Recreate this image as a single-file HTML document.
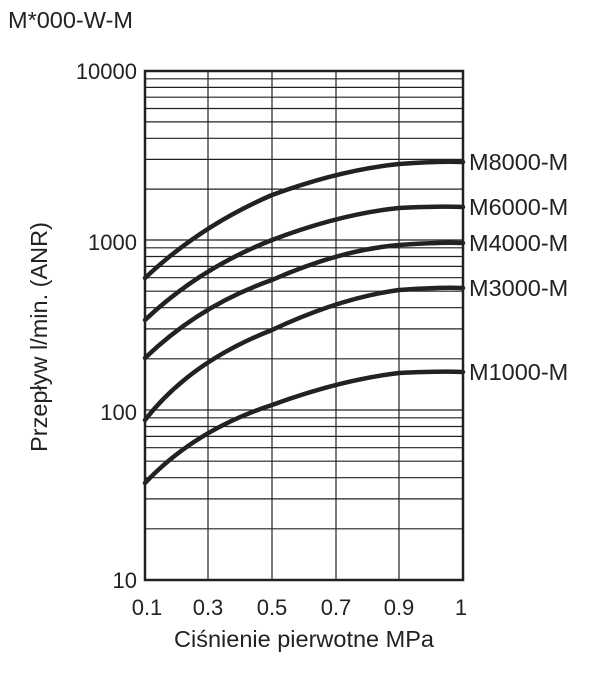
<!DOCTYPE html>
<html><head><meta charset="utf-8"><style>body{margin:0;background:#fff}</style></head><body>
<svg width="600" height="671" xmlns="http://www.w3.org/2000/svg" font-family="Liberation Sans, sans-serif">
<rect width="600" height="671" fill="#fff"/>
<text x="8" y="28" font-size="23.5" fill="#222">M*000-W-M</text>
<g stroke="#222" stroke-width="1.2" fill="none">
<line x1="208" y1="71" x2="208" y2="580"/><line x1="272" y1="71" x2="272" y2="580"/><line x1="336" y1="71" x2="336" y2="580"/><line x1="399" y1="71" x2="399" y2="580"/>
<line x1="145" y1="189.1" x2="463" y2="189.1"/><line x1="145" y1="159.4" x2="463" y2="159.4"/><line x1="145" y1="138.3" x2="463" y2="138.3"/><line x1="145" y1="121.9" x2="463" y2="121.9"/><line x1="145" y1="108.5" x2="463" y2="108.5"/><line x1="145" y1="97.2" x2="463" y2="97.2"/><line x1="145" y1="87.4" x2="463" y2="87.4"/><line x1="145" y1="78.8" x2="463" y2="78.8"/>
<line x1="145" y1="240" x2="463" y2="240"/>
<line x1="145" y1="358.8" x2="463" y2="358.8"/><line x1="145" y1="328.9" x2="463" y2="328.9"/><line x1="145" y1="307.7" x2="463" y2="307.7"/><line x1="145" y1="291.2" x2="463" y2="291.2"/><line x1="145" y1="277.7" x2="463" y2="277.7"/><line x1="145" y1="266.4" x2="463" y2="266.4"/><line x1="145" y1="256.5" x2="463" y2="256.5"/><line x1="145" y1="247.8" x2="463" y2="247.8"/>
<line x1="145" y1="410" x2="463" y2="410"/>
<line x1="145" y1="528.8" x2="463" y2="528.8"/><line x1="145" y1="498.9" x2="463" y2="498.9"/><line x1="145" y1="477.7" x2="463" y2="477.7"/><line x1="145" y1="461.2" x2="463" y2="461.2"/><line x1="145" y1="447.7" x2="463" y2="447.7"/><line x1="145" y1="436.4" x2="463" y2="436.4"/><line x1="145" y1="426.5" x2="463" y2="426.5"/><line x1="145" y1="417.8" x2="463" y2="417.8"/>
</g>
<g fill="none" stroke="#222" stroke-width="4.5" stroke-linecap="round">
<path d="M145,278 Q200,226 272,195 Q340,170 399,164 Q440,161 463,162"/>
<path d="M145,320 Q200,268 272,240 Q340,214 399,208 Q440,206 463,207"/>
<path d="M145,358 Q200,305 272,280 Q340,250 399,245 Q440,242 463,243"/>
<path d="M145,420 Q190,362 272,330 Q340,298 399,290 Q440,287 463,288"/>
<path d="M145,483 Q195,430 272,405 Q340,380 399,373 Q440,371 463,372"/>
</g>
<rect x="145" y="71" width="318" height="509" fill="none" stroke="#222" stroke-width="2.5"/>
<g font-size="22" fill="#222" text-anchor="end">
<text x="137" y="79">10000</text><text x="137" y="250">1000</text><text x="137" y="420">100</text><text x="137" y="588">10</text>
</g>
<g font-size="22" fill="#222" text-anchor="middle">
<text x="147" y="615">0.1</text><text x="208" y="615">0.3</text><text x="272" y="615">0.5</text><text x="336" y="615">0.7</text><text x="399" y="615">0.9</text><text x="461" y="615">1</text>
<text x="304" y="647" font-size="23.5">Ciśnienie pierwotne MPa</text>
<text transform="translate(47,337) rotate(-90)" font-size="23.5">Przepływ l/min. (ANR)</text>
</g>
<g font-size="23.5" fill="#222">
<text x="469" y="170">M8000-M</text><text x="469" y="215">M6000-M</text><text x="469" y="251">M4000-M</text><text x="469" y="296">M3000-M</text><text x="469" y="380">M1000-M</text>
</g>
</svg>
</body></html>
